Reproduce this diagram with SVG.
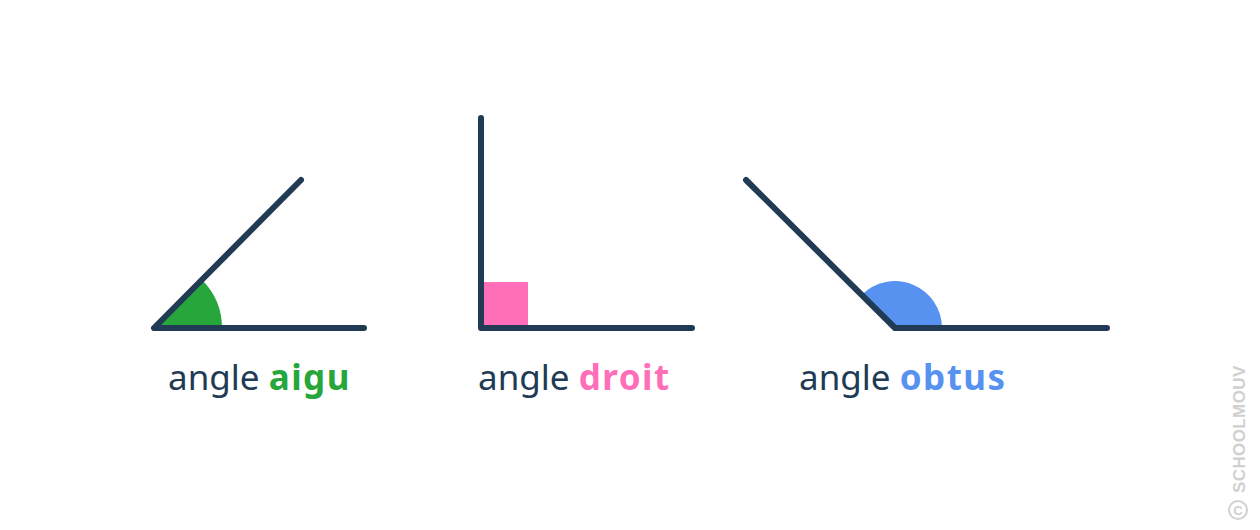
<svg xmlns="http://www.w3.org/2000/svg" width="1260" height="530" viewBox="0 0 1260 530">
<style>
.ln{stroke:#213b55;stroke-width:6;stroke-linecap:round;stroke-linejoin:round;fill:none}
.lb{font-family:"Noto Sans","Open Sans",sans-serif;font-size:35px;fill:#213b55}
.b{font-weight:bold;letter-spacing:1.5px}
.wm{font-family:"Liberation Sans",Arial,sans-serif;font-weight:bold;font-size:17px;fill:#d0d0d0;letter-spacing:0.4px}
</style>
<rect width="1260" height="530" fill="#ffffff"/>
<g id="angle-aigu">
<path d="M154 328 L222 328 A68 68 0 0 0 202.1 279.9 Z" fill="#26a63b"/>
<path class="ln" d="M301 180 L154 328 L364 328"/>
<text class="lb" x="168" y="390">angle <tspan class="b" fill="#26a63b">aigu</tspan></text>
</g>
<g id="angle-droit">
<rect x="483" y="282" width="45" height="45" fill="#ff6eb8"/>
<path class="ln" d="M481 118 L481 328 L692 328"/>
<text class="lb" x="478" y="390">angle <tspan class="b" fill="#ff6eb8">droit</tspan></text>
</g>
<g id="angle-obtus">
<path d="M895 328 L942 328 A47 47 0 0 0 861.8 294.8 Z" fill="#5792f0"/>
<path class="ln" d="M746 180 L895 328 L1107 328"/>
<text class="lb" x="799" y="390">angle <tspan class="b" fill="#5792f0">obtus</tspan></text>
</g>
<g id="watermark">
<circle cx="1238" cy="510" r="9" fill="none" stroke="#d0d0d0" stroke-width="2"/>
<text x="1238" y="515" text-anchor="middle" font-family="Liberation Sans,Arial,sans-serif" font-weight="bold" font-size="13" fill="#d0d0d0">C</text>
<text class="wm" transform="translate(1244.5 493) rotate(-90)">SCHOOLMOUV</text>
</g>
</svg>
